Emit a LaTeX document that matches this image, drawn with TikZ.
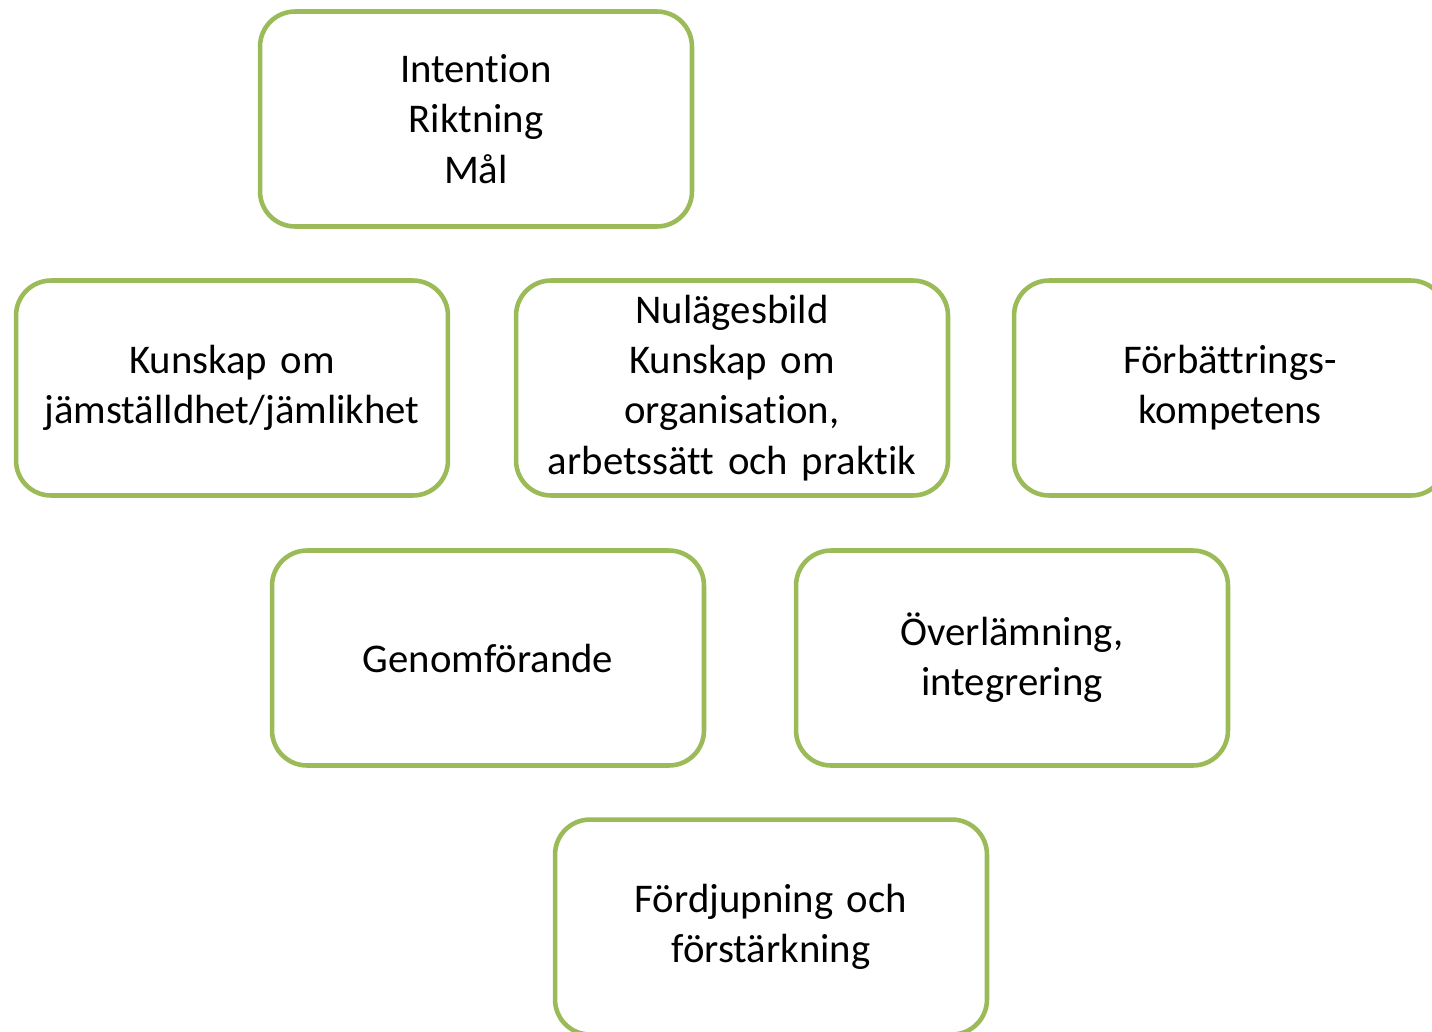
\documentclass[tikz,border=0pt]{standalone}
\usepackage{fontspec}
\setmainfont{Carlito}[Ligatures=NoCommon]
\definecolor{olivgron}{RGB}{155,187,89}
\begin{document}
\begin{tikzpicture}[x=0.02cm, y=-0.02cm,
  ruta/.style={draw=olivgron, line width=2.6pt, rounded corners=0.7cm, fill=white,
    minimum width=8.64cm, minimum height=4.3cm, text width=8.4cm, align=center,
    inner sep=0pt, font=\fontsize{23.2}{28.6}\selectfont}]
\clip (0,0) rectangle (1432,1031);
\node [ruta] (intention) at (476,119) {Intention\\Riktning\\Mål};
\node [ruta] (kunskap) at (232,388) {Kunskap om\\jämställdhet/jämlikhet};
\node [ruta] (nulage) at (732,388) {Nulägesbild\\Kunskap om\\organisation,\\arbetssätt och praktik};
\node [ruta] (forbattring) at (1230,388) {Förbättrings-\\kompetens};
\node [ruta] (genomforande) at (488,658) {Genomförande};
\node [ruta] (overlamning) at (1012,658) {Överlämning,\\integrering};
\node [ruta] (fordjupning) at (771,927) {Fördjupning och\\förstärkning};
\end{tikzpicture}
\end{document}
